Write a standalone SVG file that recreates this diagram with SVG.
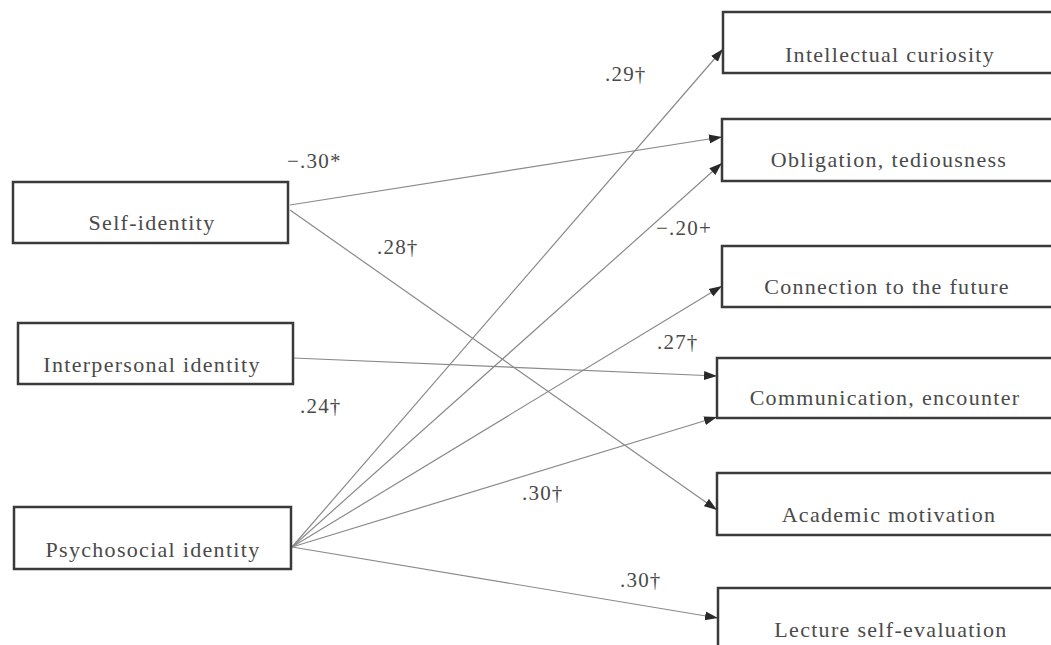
<svg xmlns="http://www.w3.org/2000/svg" width="1051" height="645" viewBox="0 0 1051 645">
  <style>
    .box { fill: #ffffff; stroke: #3a3a3a; stroke-width: 2.5; }
    .lbl { font-family: "Liberation Serif", "DejaVu Serif", "Times New Roman", serif; font-size: 22px; fill: #4a4a4a; letter-spacing: 1.3px; text-anchor: middle; }
    .coef { font-family: "Liberation Serif", "DejaVu Serif", "Times New Roman", serif; font-size: 21px; fill: #4a4a4a; letter-spacing: 1.2px; }
    .path { fill: none; stroke: #8a8a8a; stroke-width: 1.2; marker-end: url(#arrow); }
  </style>
  <defs>
    <marker id="arrow" markerUnits="userSpaceOnUse" markerWidth="14" markerHeight="10" refX="13" refY="5" orient="auto">
      <path d="M0,0.5 L13,5 L0,9.5 Z" fill="#2a2a2a"/>
    </marker>
  </defs>
  <rect width="1051" height="645" fill="#ffffff"/>

  <!-- connectors -->
  <g id="connectors">
    <line class="path" x1="290" y1="205" x2="722" y2="137"/>
    <line class="path" x1="290" y1="210" x2="717" y2="510"/>
    <line class="path" x1="293" y1="358" x2="717" y2="376"/>
    <line class="path" x1="292" y1="547" x2="723" y2="49"/>
    <line class="path" x1="292" y1="547" x2="722" y2="163"/>
    <line class="path" x1="292" y1="547" x2="722" y2="286"/>
    <line class="path" x1="292" y1="547" x2="717" y2="417"/>
    <line class="path" x1="292" y1="547" x2="718" y2="618"/>
  </g>

  <!-- path coefficients -->
  <g id="coefficients">
    <text class="coef" x="287" y="168">−.30*</text>
    <text class="coef" x="377" y="254">.28†</text>
    <text class="coef" x="605" y="81">.29†</text>
    <text class="coef" x="656" y="235">−.20+</text>
    <text class="coef" x="657" y="349">.27†</text>
    <text class="coef" x="300" y="413">.24†</text>
    <text class="coef" x="522" y="500">.30†</text>
    <text class="coef" x="620" y="587">.30†</text>
  </g>

  <!-- predictors -->
  <g id="self-identity">
    <rect class="box" x="13" y="182" width="275" height="61"/>
    <text class="lbl" x="152" y="230">Self-identity</text>
  </g>
  <g id="interpersonal-identity">
    <rect class="box" x="18" y="323" width="275" height="61"/>
    <text class="lbl" x="152" y="372">Interpersonal identity</text>
  </g>
  <g id="psychosocial-identity">
    <rect class="box" x="14" y="507" width="277" height="62"/>
    <text class="lbl" x="153" y="557">Psychosocial identity</text>
  </g>

  <!-- outcomes -->
  <g id="intellectual-curiosity">
    <rect class="box" x="723" y="12" width="340" height="61"/>
    <text class="lbl" x="890" y="62">Intellectual curiosity</text>
  </g>
  <g id="obligation-tediousness">
    <rect class="box" x="722" y="119" width="340" height="62"/>
    <text class="lbl" x="889" y="167">Obligation, tediousness</text>
  </g>
  <g id="connection-future">
    <rect class="box" x="722" y="246" width="340" height="61"/>
    <text class="lbl" x="887" y="294">Connection to the future</text>
  </g>
  <g id="communication-encounter">
    <rect class="box" x="717" y="358" width="345" height="60"/>
    <text class="lbl" x="885" y="405">Communication, encounter</text>
  </g>
  <g id="academic-motivation">
    <rect class="box" x="717" y="473" width="345" height="62"/>
    <text class="lbl" x="889" y="522">Academic motivation</text>
  </g>
  <g id="lecture-self-evaluation">
    <rect class="box" x="718" y="588" width="345" height="70"/>
    <text class="lbl" x="891" y="637">Lecture self-evaluation</text>
  </g>
</svg>
